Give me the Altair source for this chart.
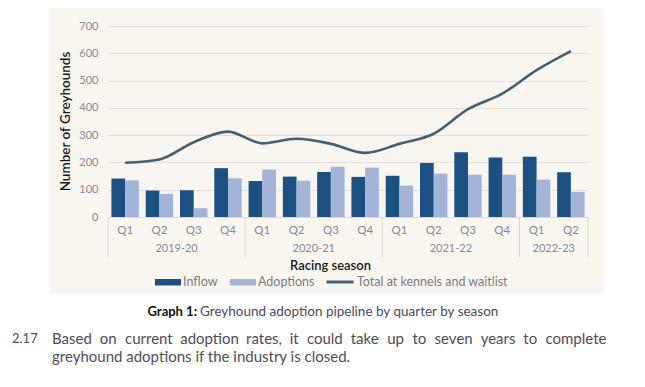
import altair as alt
import pandas as pd

# ---- data ----
seasons = ["2019-20"] * 4 + ["2020-21"] * 4 + ["2021-22"] * 4 + ["2022-23"] * 2
quarters = ["Q1", "Q2", "Q3", "Q4"] * 3 + ["Q1", "Q2"]
inflow = [141, 97, 98, 179, 132, 148, 165, 147, 151, 198, 237, 218, 221, 164]
adoptions = [134, 84, 32, 142, 174, 133, 184, 181, 115, 159, 155, 155, 137, 92]
total = [199, 211, 274, 313, 270, 287, 268, 235, 268, 305, 395, 452, 538, 608]
season_names = ["2019-20", "2020-21", "2021-22", "2022-23"]
series_bars = ["Inflow", "Adoptions"]
series_line = "Total at kennels and waitlist"
y_ticks = [0, 100, 200, 300, 400, 500, 600, 700]

caption_bold = "Graph 1:"
caption_rest = "Greyhound adoption pipeline by quarter by season"
para_num = "2.17"
para_lines = [
    "Based on current adoption rates, it could take up to seven years to complete",
    "greyhound adoptions if the industry is closed.",
]

# ---- tables ----
keys = [f"{s} {q}" for s, q in zip(seasons, quarters)]
bar_df = pd.DataFrame(
    [{"key": k, "series": "Inflow", "value": v} for k, v in zip(keys, inflow)]
    + [{"key": k, "series": "Adoptions", "value": v} for k, v in zip(keys, adoptions)]
)
line_df = pd.DataFrame({"key": keys, "value": total, "series": series_line})

mid_keys, first_keys, last_keys = [], [], []
for s in season_names:
    ks = [k for k, ss in zip(keys, seasons) if ss == s]
    mid_keys.append(ks[len(ks) // 2 - 1])
    first_keys.append(ks[0])
    last_keys.append(ks[-1])
season_df = pd.DataFrame({"key": mid_keys, "season": season_names})
start_df = pd.DataFrame({"key": first_keys[:1]})
end_df = pd.DataFrame({"key": last_keys})

W, H = 480, 191
FONT = "Lato"
DARK = "#1b5083"
LIGHT = "#a3b4d7"
SLATE = "#465f6e"
GRAY = "#8a8794"
BG = "#f9f6f0"
TXT = "#4f4d55"

x_scale = alt.Scale(domain=keys, paddingInner=0, paddingOuter=0)
y_scale = alt.Scale(domain=[0, 700])
y_axis = alt.Axis(
    title="Number of Greyhounds",
    values=y_ticks,
    labelOverlap=False,
    titleX=-43,
    titleY=95,
    titleAngle=-90,
    titleAlign="center",
    titleBaseline="middle",
    titleFontSize=13.5,
    titleFontWeight=600,
    titleColor="#1a1a1a",
    titleFont=FONT,
    labelColor=GRAY,
    labelFontSize=11,
    labelFont=FONT,
    labelPadding=10,
    ticks=False,
    domain=False,
    gridColor="#e3dfda",
    gridWidth=1,
)
x_axis = alt.Axis(
    title="Racing season",
    titleX=222,
    titleY=48,
    titleBaseline="middle",
    titleFontSize=13,
    titleFontWeight=600,
    titleColor="#1a1a1a",
    titleFont=FONT,
    labelExpr="split(datum.label, ' ')[1]",
    labelAngle=0,
    labelColor=GRAY,
    labelFontSize=11.5,
    labelFont=FONT,
    labelPadding=7,
    ticks=False,
    domainColor="#dcd8d3",
    grid=False,
)

one = pd.DataFrame({"a": [0]})

# white areas outside the beige panel
white = alt.Chart(one).mark_rect(color="white").encode(
    x=alt.value(-120), x2=alt.value(-59), y=alt.value(-40), y2=alt.value(420)
)
white_r = alt.Chart(one).mark_rect(color="white").encode(
    x=alt.value(496), x2=alt.value(560), y=alt.value(-40), y2=alt.value(420)
)
white_b = alt.Chart(one).mark_rect(color="white").encode(
    x=alt.value(-120), x2=alt.value(560), y=alt.value(268), y2=alt.value(420)
)

bars = alt.Chart(bar_df).mark_bar().encode(
    x=alt.X("key:N", scale=x_scale, axis=x_axis),
    xOffset=alt.XOffset(
        "series:N",
        scale=alt.Scale(domain=series_bars, paddingInner=0, paddingOuter=0.25),
    ),
    y=alt.Y("value:Q", scale=y_scale, axis=y_axis),
    color=alt.Color(
        "series:N",
        scale=alt.Scale(domain=series_bars, range=[DARK, LIGHT]),
        legend=alt.Legend(
            title=None,
            orient="none",
            legendX=47,
            legendY=243,
            direction="horizontal",
            symbolType="M-1,-0.25H1V0.25H-1Z",
            symbolSize=676,
            symbolStrokeWidth=0,
            labelFontSize=12.5,
            labelFont=FONT,
            labelColor="#7d7a86",
            labelOffset=2,
            columnPadding=12,
        ),
    ),
)

line = alt.Chart(line_df).mark_line(interpolate="monotone", strokeWidth=2.6).encode(
    x=alt.X("key:N", scale=x_scale, axis=x_axis),
    y=alt.Y("value:Q", scale=y_scale, axis=y_axis),
    stroke=alt.Stroke(
        "series:N",
        scale=alt.Scale(domain=[series_line], range=[SLATE]),
        legend=alt.Legend(
            title=None,
            orient="none",
            legendX=217,
            legendY=241,
            symbolType="stroke",
            symbolSize=729,
            symbolStrokeWidth=3,
            labelFontSize=12.5,
            labelFont=FONT,
            labelColor="#7d7a86",
            labelOffset=2,
        ),
    ),
)

season_text = alt.Chart(season_df).mark_text(
    baseline="middle", align="center", fontSize=11, font=FONT, color=GRAY
).encode(
    x=alt.X("key:N", scale=x_scale, bandPosition=1, axis=x_axis),
    y=alt.value(223),
    text="season:N",
)

sep_start = alt.Chart(start_df).mark_rule(color="#dcd8d3", strokeWidth=1).encode(
    x=alt.X("key:N", scale=x_scale, bandPosition=0, axis=x_axis),
    y=alt.value(H),
    y2=alt.value(H + 40),
)
sep_end = alt.Chart(end_df).mark_rule(color="#dcd8d3", strokeWidth=1).encode(
    x=alt.X("key:N", scale=x_scale, bandPosition=1, axis=x_axis),
    y=alt.value(H),
    y2=alt.value(H + 40),
)


def text_layer(t, x, y, size, color=TXT, weight="normal", align="left"):
    return alt.Chart(pd.DataFrame({"t": [t]})).mark_text(
        align=align, baseline="middle", fontSize=size, font=FONT,
        fontWeight=weight, color=color
    ).encode(x=alt.value(x), y=alt.value(y), text="t:N")


cap1 = text_layer(caption_bold, 89, 286, 13, color="#111111", weight="bold", align="right")
cap2 = text_layer(caption_rest, 92, 286, 13.5, color="#4d4a57")
num = text_layer(para_num, -96, 313, 13)

# justified first paragraph line: approximate Lato advance widths (em)
CW = {
    "a": .51, "b": .56, "c": .46, "d": .56, "e": .53, "f": .31, "g": .50, "h": .56,
    "i": .23, "j": .23, "k": .50, "l": .23, "m": .84, "n": .56, "o": .56, "p": .56,
    "q": .56, "r": .35, "s": .42, "t": .34, "u": .56, "v": .49, "w": .76, "x": .48,
    "y": .49, "z": .44, "B": .62, ",": .21, ".": .21,
}
PSIZE = 15
left, right = -56, 497
words = para_lines[0].split(" ")
widths = [sum(CW.get(ch, .5) for ch in w) * PSIZE * 0.98 for w in words]
gap = (right - left - sum(widths)) / (len(words) - 1)
word_layers = []
xpos = left
for w, wd in zip(words, widths):
    word_layers.append(text_layer(w, xpos, 313, PSIZE))
    xpos += wd + gap
p2 = text_layer(para_lines[1], -56, 331, PSIZE)

chart = (
    alt.layer(white, white_r, white_b, bars, line, season_text, sep_start, sep_end,
              cap1, cap2, num, *word_layers, p2)
    .resolve_scale(color="independent")
    .properties(
        width=W,
        height=H,
        autosize=alt.AutoSizeParams(type="none"),
        padding={"left": 100, "top": 18, "right": 30, "bottom": 160},
        background=BG,
    )
    .configure_view(stroke=None)
)

chart.save("out.html", embed_options={"renderer": "svg", "actions": False})
